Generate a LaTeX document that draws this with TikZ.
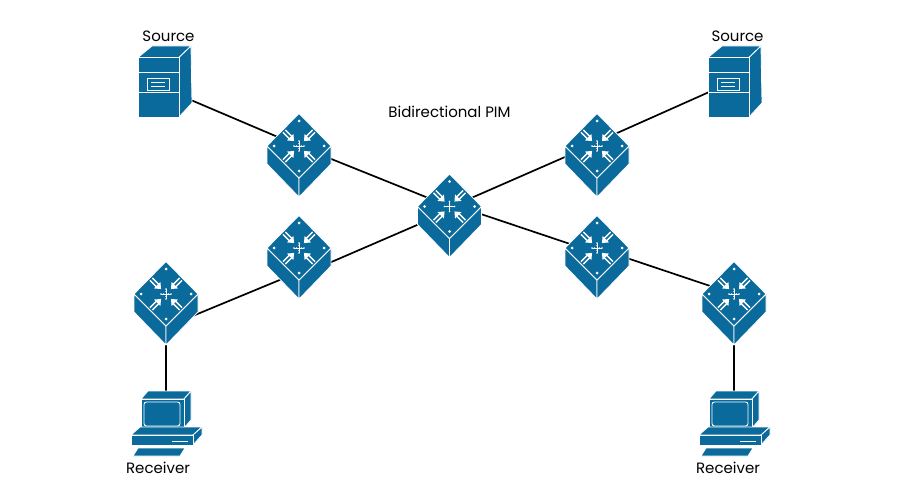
\documentclass[tikz,border=0pt]{standalone}
\usepackage{fontspec}
\setmainfont{Poppins}
\usepackage{xcolor}
\usepackage{tikz}
\definecolor{iconblue}{HTML}{0A6A9C}

\begin{document}
\begin{tikzpicture}[
	x=1pt,y=-1pt,
	font=\fontsize{15}{18}\selectfont
]
\tikzset{
    anchorbox/.style = {inner sep=0pt,minimum width=50pt,minimum height=50pt},
    link/.style = {line width=1.7pt,black},
    iconface/.style = {fill=iconblue,draw=white,line width=0.8pt,line join=round},
    iconline/.style = {draw=white,line width=0.9pt},
    serverpic/.pic = {
        \filldraw[iconface] (-27,-24) -- (-13,-35.5) -- (26,-35.5) -- (14,-24) -- cycle;
        \filldraw[iconface] (14,-24) -- (26,-35.5) -- (27,21.5) -- (14,35.5) -- cycle;
        \filldraw[iconface] (-27,-24) rectangle (14,35.5);
        \draw[iconline] (-27,-9.5) -- (14,-9.5);
        \draw[iconline] (-27,10.5) -- (14,10.5);
        \draw[iconline] (-18,-3.5) rectangle (4,8.5);
        \draw[draw=white,line width=0.6pt] (-14,0.5) -- (0,0.5) (-14,4.5) -- (0,4.5);
    },
    routerpic/.pic = {
        \filldraw[iconface] (-32,0) -- (0,32) -- (0,51) -- (-32,18) -- cycle;
        \filldraw[iconface] (32,0) -- (0,32) -- (0,51) -- (32,18) -- cycle;
        \filldraw[iconface] (0,-32.5) -- (32,0) -- (0,32) -- (-32,0) -- cycle;
        \foreach \ang in {45,135,225,315} {
            \begin{scope}[rotate=\ang]
                \fill[white] (7,0) -- (12.5,-4.6) -- (12.5,4.6) -- cycle;
                \draw[draw=white,line width=1.3pt] (12,-1.7) -- (21,-1.7) (12,1.7) -- (21,1.7);
            \end{scope}
        }
        \foreach \ang in {0,90,180,270} {
            \fill[white,rotate=\ang] (25,0) circle (1.5);
            \fill[white,rotate=\ang] (5,0) circle (0.9);
            \fill[white,rotate=\ang] (2.4,0) circle (0.8);
        }
        \draw[draw=white,line width=0.6pt] (-5,0) -- (5,0) (0,-5) -- (0,5);
    },
    pcpic/.pic = {
        \filldraw[iconface] (-25,-25) -- (-18,-33) -- (25,-33) -- (18,-25) -- cycle;
        \filldraw[iconface] (18,-25) -- (25,-33) -- (25,-4) -- (18,4) -- cycle;
        \filldraw[iconface] (-25,-25) rectangle (18,4);
        \draw[iconline,rounded corners=2.5pt] (-22,-22) rectangle (14,2);
        \filldraw[iconface] (-35,11) -- (-26,3) -- (36,3) -- (27,11) -- cycle;
        \filldraw[iconface] (27,11) -- (36,3) -- (36,11) -- (27,21) -- cycle;
        \filldraw[iconface] (-35,11) rectangle (27,21);
        \draw[iconline] (6,17) -- (22,17);
        \filldraw[iconface] (-33,32) -- (-28,24) -- (19,24) -- (14,32) -- cycle;
    }
}
\useasboundingbox (0,0) rectangle (900,500);

\node[anchorbox] (srcL) at (165,81.5) {};
\node[anchorbox] (srcR) at (735,81.5) {};
\node[anchorbox] (rtrC) at (449.5,206.5) {};
\node[anchorbox] (rtrUL) at (299,146) {};
\node[anchorbox] (rtrUR) at (597,146) {};
\node[anchorbox] (rtrLL) at (299,248) {};
\node[anchorbox] (rtrLR) at (597,248) {};
\node[anchorbox] (rtrEL) at (166,294) {};
\node[anchorbox] (rtrER) at (734,294) {};
\node[anchorbox] (pcL) at (166,424) {};
\node[anchorbox] (pcR) at (734,424) {};

\draw[link] ([yshift=-7.5pt]srcL.center) -- (rtrUL.center);
\draw[link] (rtrUL.center) -- (rtrC.center);
\draw[link] ([yshift=-1pt]rtrC.center) -- ([yshift=3pt]rtrUR.center);
\draw[link] ([yshift=4pt]rtrUR.center) -- ([yshift=1pt]srcR.center);
\draw[link] ([yshift=-4.5pt]rtrC.center) -- ([yshift=-28pt]rtrLL.center);
\draw[link] ([yshift=-24pt]rtrLL.center) -- ([yshift=-33pt]rtrEL.center);
\draw[link] ([yshift=3pt]rtrC.center) -- ([yshift=-5pt]rtrLR.center);
\draw[link] (rtrLR.center) -- (rtrER.center);
\draw[link] (rtrEL.center) -- (pcL.center);
\draw[link] (rtrER.center) -- (pcR.center);

\pic at (srcL) {serverpic};
\pic at (srcR) {serverpic};
\pic at (rtrC) {routerpic};
\pic at (rtrUL) {routerpic};
\pic at (rtrUR) {routerpic};
\pic at (rtrLL) {routerpic};
\pic at (rtrLR) {routerpic};
\pic at (rtrEL) {routerpic};
\pic at (rtrER) {routerpic};
\pic at (pcL) {pcpic};
\pic at (pcR) {pcpic};

\node[] (lblSrcL) at (168.5,36) {Source};
\node[] (lblSrcR) at (737.5,36) {Source};
\node[] (lblTitle) at (449.5,112) {Bidirectional PIM};
\node[] (lblPcL) at (158,468) {Receiver};
\node[] (lblPcR) at (728,468) {Receiver};
\end{tikzpicture}
\end{document}
